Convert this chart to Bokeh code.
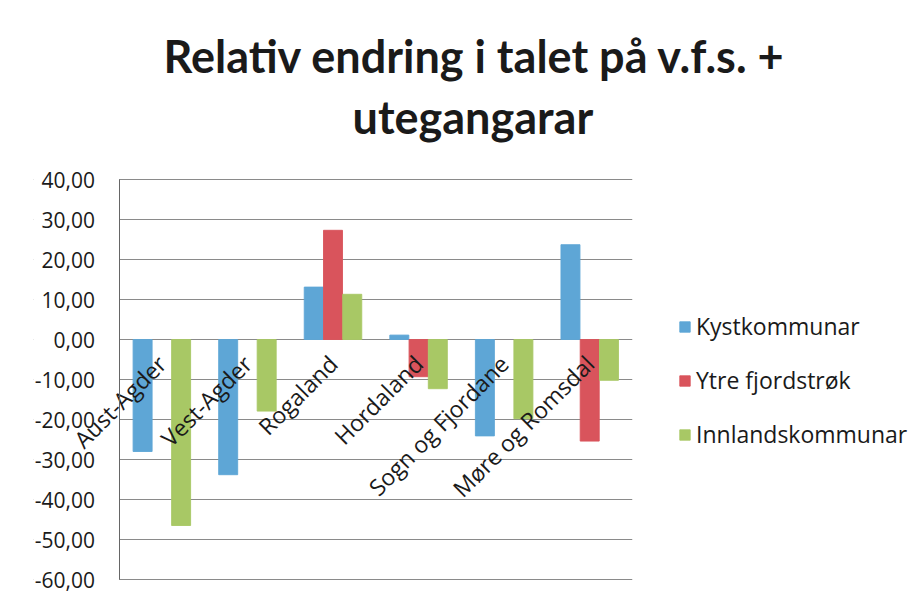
import math
from bokeh.plotting import figure
from bokeh.models import (ColumnDataSource, FactorRange, Range1d, Legend, LegendItem,
                          FixedTicker, CustomJSTickFormatter, Title, BoxAnnotation)
from bokeh.transform import dodge
from bokeh.embed import file_html
from bokeh.resources import INLINE

nan = float("nan")
categories = ["Aust-Agder", "Vest-Agder", "Rogaland", "Hordaland", "Sogn og Fjordane", "Møre og Romsdal"]
kystkommunar = [-28.0, -33.8, 13.1, 1.1, -24.1, 23.7]
ytre_fjordstrok = [nan, nan, 27.3, -9.3, nan, -25.4]
innlandskommunar = [-46.5, -17.9, 11.3, -12.3, -19.8, -10.2]
series_names = ["Kystkommunar", "Ytre fjordstrøk", "Innlandskommunar"]
colors = ["#5ea6d6", "#d9545c", "#a8c865"]
y_ticks = [40, 30, 20, 10, 0, -10, -20, -30, -40, -50, -60]

TITLE_FONT = "Lato"
FONT = "Open Sans"

src = ColumnDataSource(dict(cat=categories, k=kystkommunar, y=ytre_fjordstrok, i=innlandskommunar))

# an empty leading slot leaves room inside the frame for the y-axis and the rotated labels
x_factors = [" "] + categories

p = figure(x_range=FactorRange(*x_factors, range_padding=0), y_range=Range1d(-63.5, 43),
           frame_width=599, frame_height=426, min_border_left=33, min_border_right=280,
           min_border_bottom=1, min_border_top=167,
           output_backend="svg", toolbar_location=None, background_fill_color="white",
           border_fill_color="white")
p.outline_line_color = None

rs = []
for col, off, c in zip(["k", "y", "i"], [-0.225, 0.0, 0.225], colors):
    r = p.vbar(x=dodge("cat", off, range=p.x_range), top=col, bottom=0, width=0.222,
               source=src, fill_color=c, line_color=c, line_alpha=0.9)
    rs.append(r)

# hide grid lines left of the value axis
p.add_layout(BoxAnnotation(right=1.0, fill_color="white", fill_alpha=1.0, line_color=None,
                           level="underlay"))

# category axis crossing at zero, rotated labels
p.xaxis.fixed_location = 0
p.xaxis.major_label_orientation = math.pi / 4
p.xaxis.major_label_text_font = FONT
p.xaxis.major_label_text_font_size = "23px"
p.xaxis.major_label_text_color = "#1a1a1a"
p.xaxis.major_label_standoff = 14
p.xaxis.axis_line_color = None
p.xaxis.major_tick_line_color = None
p.xaxis.minor_tick_line_color = None
p.xgrid.visible = False

p.yaxis.fixed_location = 1.0
p.yaxis.bounds = (min(y_ticks), max(y_ticks))
p.yaxis.ticker = FixedTicker(ticks=y_ticks)
p.yaxis.formatter = CustomJSTickFormatter(code="return tick.toFixed(2).replace('.', ',');")
p.yaxis.major_label_text_font = FONT
p.yaxis.major_label_text_font_size = "21px"
p.yaxis.major_label_text_color = "#1a1a1a"
p.yaxis.major_tick_out = 0
p.yaxis.major_tick_in = 0
p.yaxis.minor_tick_out = 0
p.yaxis.minor_tick_in = 0
p.yaxis.major_label_standoff = 24
p.yaxis.axis_line_color = "#666666"
p.ygrid.grid_line_color = "#8a8a8a"
p.ygrid.grid_line_alpha = 1.0
p.ygrid.ticker = FixedTicker(ticks=y_ticks)

legend = Legend(items=[LegendItem(label=n, renderers=[r]) for n, r in zip(series_names, rs)],
                location=(46, 143), label_text_font=FONT, label_text_font_size="23px",
                label_text_color="#1a1a1a", glyph_width=13, glyph_height=13, label_standoff=5,
                spacing=22, margin=0, padding=10, border_line_color=None,
                background_fill_alpha=0)
p.add_layout(legend, "right")

p.add_layout(Title(text="utegangarar", align="left", offset=319, text_font=TITLE_FONT,
                   text_font_size="45px", text_font_style="bold", text_color="#1a1a1a",
                   standoff=48), "above")
p.add_layout(Title(text="Relativ endring i talet på v.f.s. +", align="left", offset=130,
                   text_font=TITLE_FONT, text_font_size="45px", text_font_style="bold",
                   text_color="#1a1a1a", standoff=-38), "above")

open("out.html", "w").write(file_html(p, INLINE))
